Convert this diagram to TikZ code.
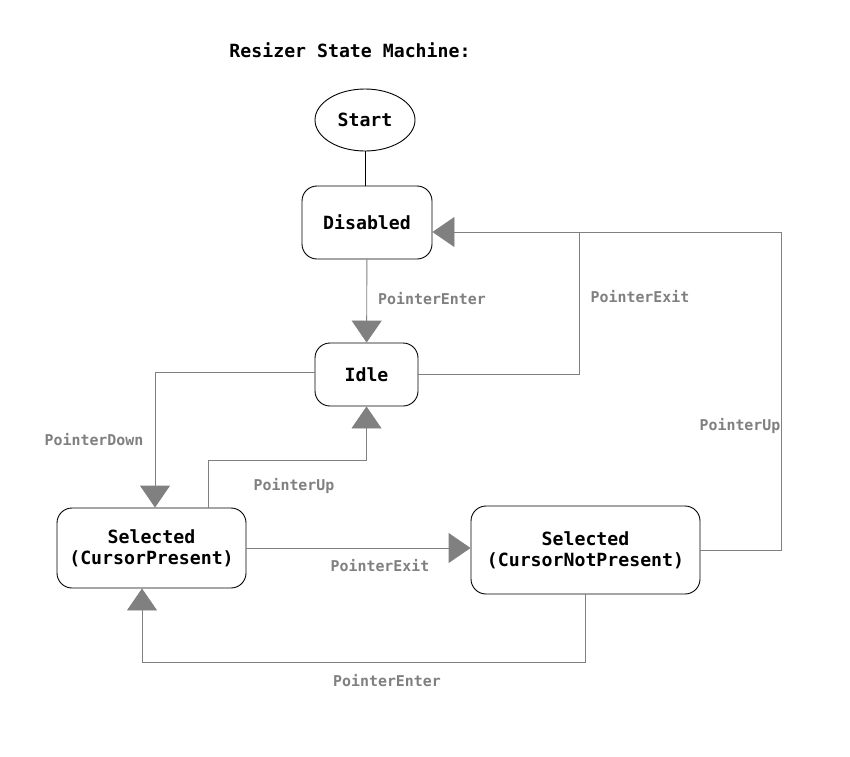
\documentclass[tikz,border=0pt]{standalone}
\usepackage{fontspec}
\setmonofont{DejaVu Sans Mono}
\usepackage{tikz}
\usetikzlibrary{calc,positioning,shapes.geometric,arrows.meta}
\definecolor{edgegray}{RGB}{128,128,128}
\definecolor{boxline}{RGB}{0,0,0}

\tikzset{
  statebox/.style={draw=boxline, line width=0.9pt, rounded corners=15pt,
    align=center, font=\ttfamily\bfseries\fontsize{18.2}{21}\selectfont,
    inner sep=0pt},
  flow/.style={draw=edgegray, line width=0.9pt,
    -{Triangle[length=22pt,width=30pt]}},
  plainflow/.style={draw=edgegray, line width=0.9pt},
  eventlabel/.style={text=edgegray, font=\ttfamily\bfseries\fontsize{14.9}{17}\selectfont}
}

\begin{document}
\begin{tikzpicture}[x=1pt,y=-1pt]
% page frame, pixel units with y running downwards
\useasboundingbox (0,0) rectangle (850,756);
\node[font=\ttfamily\bfseries\fontsize{18.2}{21}\selectfont] (title) at (350,50) {Resizer State Machine:};
% states
\node[draw=boxline, line width=0.9pt, ellipse, minimum width=100pt, minimum height=62pt,
  inner sep=0pt, font=\ttfamily\bfseries\fontsize{18.2}{21}\selectfont] (start) at (365,120) {Start};
\node[statebox, minimum width=130pt, minimum height=73pt] (disabled) at (367,222.5) {Disabled};
\node[statebox, minimum width=103pt, minimum height=63pt] (idle) at (366.5,374.5) {Idle};
\node[statebox, minimum width=189pt, minimum height=80pt] (present) at (151.5,548) {Selected\\(CursorPresent)};
\node[statebox, minimum width=229pt, minimum height=88pt] (notpresent) at (585.5,550) {Selected\\(CursorNotPresent)};
% corner points of the routed connectors
\coordinate (exitjoin) at (579,232);
\coordinate (upright) at (781,232);
\coordinate (downleft) at (155,372.5);
% connectors
\draw[line width=0.9pt] (start) -- (start |- disabled.north);
\draw[flow] (disabled) -- (idle);
\draw[flow] (idle.east) -| (exitjoin) -- (exitjoin -| disabled.east);
\draw[plainflow] (notpresent.east) -| (upright) -- (exitjoin);
\draw[flow] (idle.west |- downleft) -- (downleft) -- (downleft |- present.north);
\draw[flow] ([xshift=56.5pt]present.north) -- ++(0,-47) -| (idle.south);
\draw[flow] (present.east) -- (present.east -| notpresent.west);
\draw[flow] (notpresent.south) -- ++(0,68) -| ([xshift=-9.5pt]present.south);
% event labels
\node[eventlabel] (enterlabel) at (432,299) {PointerEnter};
\node[eventlabel] (exitlabel) at (640,297) {PointerExit};
\node[eventlabel] (uplabel) at (740,426) {PointerUp};
\node[eventlabel] (downlabel) at (94,440) {PointerDown};
\node[eventlabel] (upleftlabel) at (294,486) {PointerUp};
\node[eventlabel] (exitmidlabel) at (380,566) {PointerExit};
\node[eventlabel] (enterbotlabel) at (387,681) {PointerEnter};
\end{tikzpicture}
\end{document}
